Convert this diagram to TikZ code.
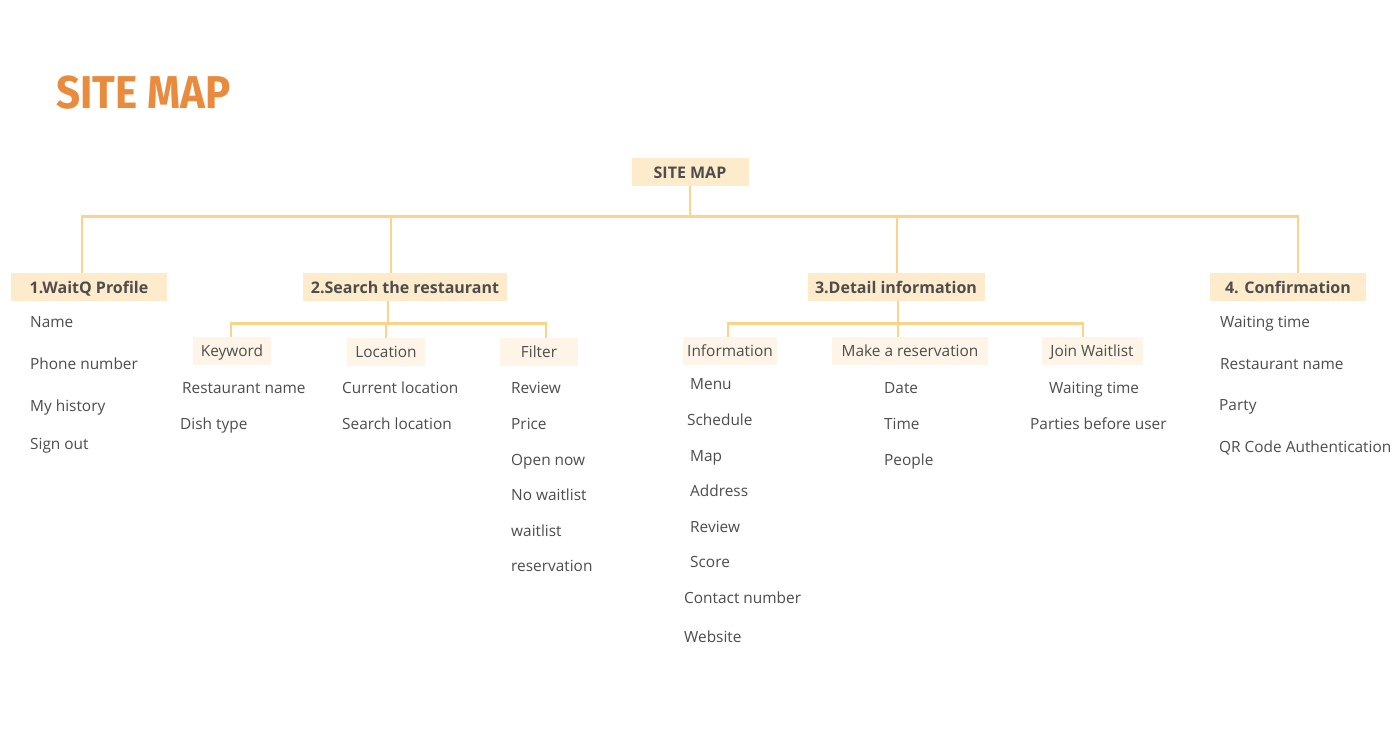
\documentclass[tikz,border=0pt]{standalone}
\usepackage{fontspec}
\setmainfont{Open Sans}
\newfontfamily\titlefont{Fira Sans}
\usetikzlibrary{positioning}

\definecolor{titleorange}{HTML}{E98A3C}
\definecolor{boxfill}{HTML}{FDEBCC}
\definecolor{subfill}{HTML}{FEF5E8}
\definecolor{linecol}{HTML}{FBD38A}
\definecolor{textgrey}{HTML}{4D4D4D}

\tikzstyle{header}=[fill=boxfill,text=textgrey,font=\fontsize{16}{18}\selectfont\bfseries,minimum height=28pt,inner xsep=4pt,text height=14pt,text depth=2pt]
\tikzstyle{subheader}=[fill=subfill,text=textgrey,font=\fontsize{15.4}{18}\selectfont,minimum height=28pt,inner xsep=4pt,text height=13pt,text depth=2pt]
\tikzstyle{entry}=[anchor=west,inner sep=0pt,text=textgrey,font=\fontsize{15.4}{18}\selectfont,text height=12pt,text depth=1pt]
\tikzstyle{branch}=[draw,linecol,line width=2.8pt]

\begin{document}
\begin{tikzpicture}[x=1pt,y=-1pt]
	\useasboundingbox[fill=white] (0,0) rectangle (1400,750);
	% Title
	\node[anchor=base west,inner sep=0pt,text=titleorange,font=\titlefont\fontsize{46}{50}\selectfont\bfseries] (title) at (56,108) {\scalebox{0.915}[1]{SITE MAP}};
	% Top of the tree and the four sections
	\node[header,minimum width=117pt] (root) at (690,172) {SITE MAP};
	\node[header,minimum width=156pt] (profile) at (89,287) {1.WaitQ Profile};
	\node[header,minimum width=204pt] (search) at (405,287) {2.Search the restaurant};
	\node[header,minimum width=177pt] (detail) at (896,287) {3.Detail information};
	\node[header,minimum width=156pt] (confirm) at (1288,287) {4. Confirmation};
	% Second level boxes
	\node[subheader,minimum width=78pt] (keyword) at (232,351) {Keyword};
	\node[subheader,minimum width=78pt] (location) at (386,352) {Location};
	\node[subheader,minimum width=78pt] (filter) at (539,352) {Filter};
	\node[subheader,minimum width=93pt] (information) at (730,351) {Information};
	\node[subheader,minimum width=156pt] (reservation) at (910,351) {Make a reservation};
	\node[subheader,minimum width=101pt] (waitlist) at (1092,351) {Join Waitlist};
	% Connect the boxes
	\foreach \dest/\shift in {profile/-7, search/-14, detail/1, confirm/10}
		\path[branch] (root.south) -- ++(0,30) -| ([xshift=\shift pt]\dest.north);
	\foreach \dest/\shift in {keyword/-1, location/0, filter/7}
		\path[branch] ([xshift=-17pt]search.south) -- ++(0,22) -| ([xshift=\shift pt]\dest.north);
	\foreach \dest/\shift in {information/-2, reservation/-12, waitlist/-9}
		\path[branch] ([xshift=2pt]detail.south) -- ++(0,22) -| ([xshift=\shift pt]\dest.north);
	% Entries under each box
	\foreach \x/\y/\txt [count=\i] in {30/322/Name, 30/364/Phone number, 30/406/My history, 30/444/Sign out}
		\node[entry] (profile\i) at (\x,\y) {\txt};
	\foreach \x/\y/\txt [count=\i] in {182/388/Restaurant name, 180/424/Dish type}
		\node[entry] (keyword\i) at (\x,\y) {\txt};
	\foreach \x/\y/\txt [count=\i] in {342/388/Current location, 342/424/Search location}
		\node[entry] (location\i) at (\x,\y) {\txt};
	\foreach \x/\y/\txt [count=\i] in {511/388/Review, 511/424/Price, 511/460/Open now, 511/495/No waitlist, 511/531/waitlist, 511/566/reservation}
		\node[entry] (filter\i) at (\x,\y) {\txt};
	\foreach \x/\y/\txt [count=\i] in {690/384/Menu, 687/420/Schedule, 690/456/Map, 690/491/Address, 690/527/Review, 690/562/Score, 684/598/Contact number, 684/637/Website}
		\node[entry] (information\i) at (\x,\y) {\txt};
	\foreach \x/\y/\txt [count=\i] in {884/388/Date, 884/424/Time, 884/460/People}
		\node[entry] (reservation\i) at (\x,\y) {\txt};
	\foreach \x/\y/\txt [count=\i] in {1049/388/Waiting time, 1030/424/Parties before user}
		\node[entry] (waitlist\i) at (\x,\y) {\txt};
	\foreach \x/\y/\txt [count=\i] in {1220/322/Waiting time, 1220/364/Restaurant name, 1219/405/Party, 1219/447/QR Code Authentication}
		\node[entry] (confirm\i) at (\x,\y) {\txt};
\end{tikzpicture}
\end{document}
